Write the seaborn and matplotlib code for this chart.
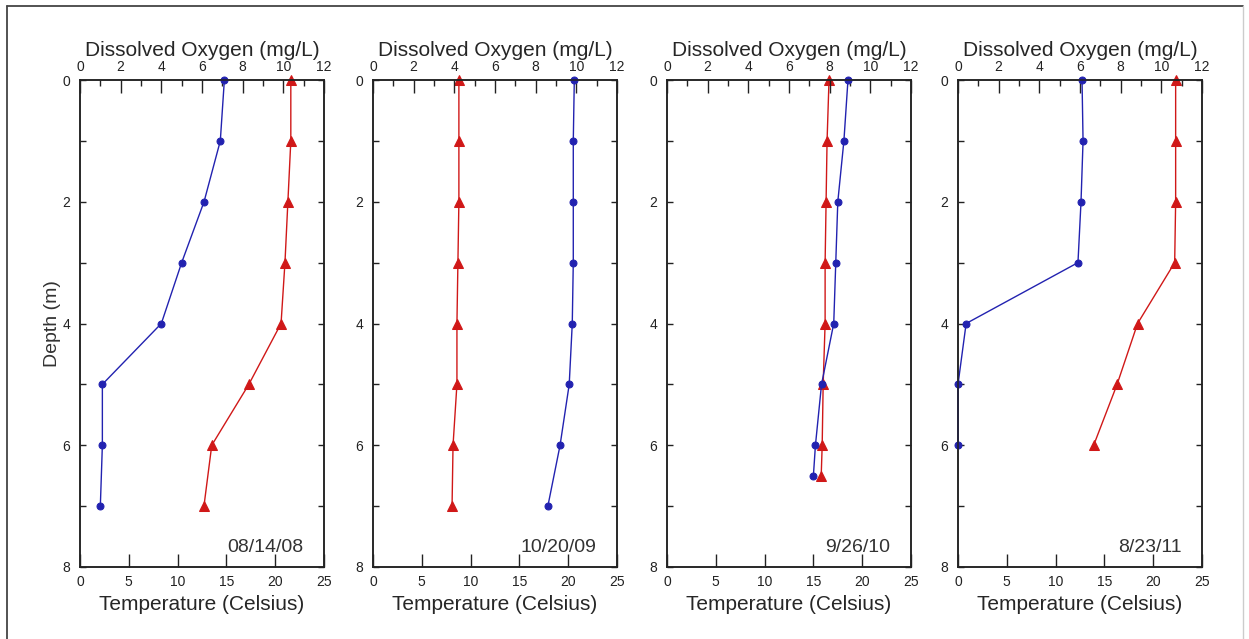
import matplotlib
matplotlib.use('Agg')
import matplotlib.pyplot as plt
import seaborn as sns
from matplotlib.lines import Line2D
from matplotlib.ticker import MultipleLocator

# one profile per sampling date: depth (m), temperature (C), dissolved oxygen (mg/L)
dates = ['08/14/08', '10/20/09', '9/26/10', '8/23/11']

depth_08 = [0, 1, 2, 3, 4, 5, 6, 7]
temp_08 = [21.6, 21.6, 21.3, 21.0, 20.6, 17.3, 13.5, 12.7]
do_08 = [7.1, 6.9, 6.1, 5.0, 4.0, 1.1, 1.1, 1.0]

depth_09 = [0, 1, 2, 3, 4, 5, 6, 7]
temp_09 = [8.8, 8.8, 8.8, 8.7, 8.6, 8.6, 8.2, 8.1]
do_09 = [9.9, 9.85, 9.85, 9.85, 9.8, 9.65, 9.2, 8.6]

depth_10 = [0, 1, 2, 3, 4, 5, 6, 6.5]
temp_10 = [16.6, 16.4, 16.3, 16.2, 16.2, 16.0, 15.9, 15.8]
do_10 = [8.9, 8.7, 8.4, 8.3, 8.2, 7.6, 7.3, 7.2]

depth_11 = [0, 1, 2, 3, 4, 5, 6]
temp_11 = [22.3, 22.3, 22.3, 22.2, 18.4, 16.3, 13.9]
do_11 = [6.1, 6.15, 6.05, 5.9, 0.4, 0.0, 0.0]

profiles = [
    (depth_08, temp_08, do_08),
    (depth_09, temp_09, do_09),
    (depth_10, temp_10, do_10),
    (depth_11, temp_11, do_11),
]

sns.set_style('ticks')
plt.rcParams['font.family'] = ['Liberation Sans', 'DejaVu Sans']

red = '#d01818'
blue = '#2222b0'
dark = '#222222'

fig = plt.figure(figsize=(12.49, 6.39), dpi=100)
lefts = [80, 373, 667, 958]

for i, (dep, temp, do) in enumerate(profiles):
    ax = fig.add_axes([lefts[i] / 1249, 72 / 639, 244 / 1249, 487 / 639])
    ax2 = ax.twiny()

    sns.lineplot(x=temp, y=dep, sort=False, estimator=None, ax=ax, color=red,
                 marker='^', markersize=6.5, markeredgecolor=red, linewidth=1,
                 clip_on=False)
    sns.lineplot(x=do, y=dep, sort=False, estimator=None, ax=ax2, color=blue,
                 marker='o', markersize=5, markeredgecolor=blue, linewidth=1,
                 clip_on=False)

    ax.set_xlim(0, 25)
    ax2.set_xlim(0, 12)
    ax.set_ylim(8, 0)

    ax.xaxis.set_major_locator(MultipleLocator(5))
    ax.yaxis.set_major_locator(MultipleLocator(2))
    ax.yaxis.set_minor_locator(MultipleLocator(1))
    ax2.xaxis.set_major_locator(MultipleLocator(2))
    ax2.xaxis.set_minor_locator(MultipleLocator(1))

    ax.tick_params(axis='x', direction='in', length=9.5, width=1, color=dark,
                   top=False, bottom=True, pad=6, labelsize=10, labelcolor=dark)
    ax.tick_params(axis='y', which='both', direction='in', length=4.5, width=1,
                   color=dark, left=True, right=True, pad=7, labelsize=10,
                   labelcolor=dark)
    ax2.tick_params(axis='x', which='major', direction='in', length=9.5, width=1,
                    color=dark, pad=4, labelsize=10, labelcolor=dark)
    ax2.tick_params(axis='x', which='minor', direction='in', length=4, width=1,
                    color=dark)

    for a in (ax, ax2):
        for sp in a.spines.values():
            sp.set_linewidth(1.1)
            sp.set_color(dark)

    ax.set_xlabel('Temperature (Celsius)', fontsize=15, labelpad=4)
    ax2.set_xlabel('Dissolved Oxygen (mg/L)', fontsize=15, labelpad=3)
    if i == 0:
        ax.set_ylabel('Depth (m)', fontsize=14, labelpad=1, color='#333333')
    else:
        ax.set_ylabel('')

    ax.text(0.915, 0.031, dates[i], transform=ax.transAxes, ha='right',
            va='baseline', fontsize=14, color='#333333')

# outer frame of the original figure
fig.add_artist(Line2D([7 / 1249, 1243 / 1249], [1 - 6 / 639, 1 - 6 / 639],
                      transform=fig.transFigure, color='#444444', lw=1.3))
fig.add_artist(Line2D([7 / 1249, 7 / 1249], [0, 1 - 6 / 639],
                      transform=fig.transFigure, color='#444444', lw=1.3))
fig.add_artist(Line2D([1243 / 1249, 1243 / 1249], [0, 1 - 6 / 639],
                      transform=fig.transFigure, color='#cccccc', lw=1))

fig.savefig('out.png', dpi=100)
